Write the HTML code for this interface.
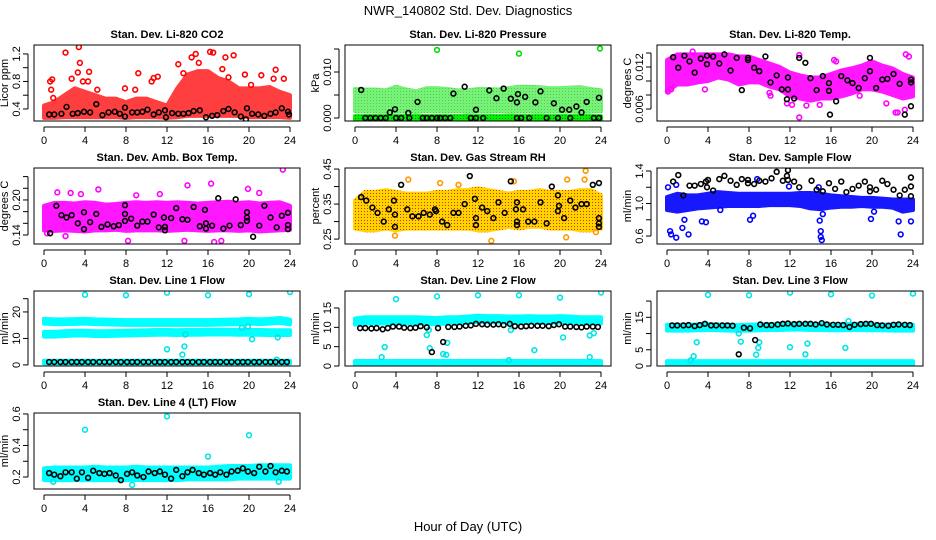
<!DOCTYPE html>
<html><head><meta charset="utf-8"><title>NWR_140802 Std. Dev. Diagnostics</title>
<style>
html,body{margin:0;padding:0;background:#fff;}
svg{display:block;font-family:"Liberation Sans",sans-serif;}
.tl{font-size:11px;fill:#000;}
.pt{font-size:11px;font-weight:bold;fill:#000;}
</style></head>
<body>
<svg id="chart" width="936" height="540" viewBox="0 0 936 540" xmlns="http://www.w3.org/2000/svg">
<defs>
<pattern id="rhpat" width="3" height="3" patternUnits="userSpaceOnUse"><rect width="3" height="3" fill="#ffd400"/><rect x="1" y="1" width="1" height="1" fill="#e03000"/></pattern>
<pattern id="grpat" width="3" height="3" patternUnits="userSpaceOnUse"><rect width="3" height="3" fill="#00ee00"/><rect x="1" y="1" width="1" height="1" fill="#007700"/></pattern>
</defs>
<rect width="936" height="540" fill="#fff"/>
<text x="468" y="15" text-anchor="middle" font-size="13">NWR_140802  Std. Dev. Diagnostics</text>
<text x="468" y="531" text-anchor="middle" font-size="13">Hour of Day (UTC)</text>
</svg>
<script>
// ---------- data ----------
const hourGrid = [0,1,2,3,4,5,6,7,8,9,10,11,12,13,14,15,16,17,18,19,20,21,22,23,24];
const xTicks = [0,4,8,12,16,20,24];
const lineHours = [0.5,1.0,1.6,2.1,2.7,3.2,3.7,4.3,4.8,5.4,5.9,6.4,7.0,7.5,8.1,8.6,9.1,9.7,10.2,10.8,11.3,11.8,12.4,12.9,13.5,14.0,14.5,15.1,15.6,16.2,16.7,17.2,17.8,18.3,18.9,19.4,19.9,20.5,21.0,21.6,22.1,22.6,23.2,23.7];

// P1 CO2
const co2Lo = [0.27,0.27,0.28,0.28,0.28,0.28,0.28,0.28,0.27,0.28,0.28,0.28,0.27,0.28,0.3,0.3,0.3,0.3,0.3,0.3,0.28,0.28,0.28,0.28,0.27];
const co2Hi = [0.45,0.5,0.6,0.7,0.65,0.6,0.55,0.55,0.5,0.55,0.55,0.5,0.45,0.7,0.9,0.95,0.95,0.85,0.8,0.7,0.7,0.7,0.72,0.65,0.6];
const co2Out = [[2.1,1.22],[3.4,1.3],[3.5,1.07],[3.3,0.93],[4.4,0.94],[0.8,0.83],[0.6,0.8],[0.7,0.68],[0.9,0.56],[3.8,0.8],[4.3,0.8],[9.2,0.92],[10.5,0.8],[10.7,0.85],[11.1,0.87],[13.1,1.05],[14.4,1.15],[14.8,1.2],[16.2,1.23],[16.5,1.22],[17.7,1.15],[18.5,1.18],[21.2,0.89],[22.6,0.97],[23.4,0.84],[19.6,0.9],[15.1,1.07],[5.2,0.68],[7.9,0.7],[8.9,0.68],[2.7,0.84],[13.6,0.92],[17.4,0.98],[18,0.86],[20.2,0.75],[22.4,0.84]];
const co2Black = [[0.5,0.32],[1,0.32],[1.7,0.33],[2.2,0.43],[2.8,0.33],[3.3,0.34],[3.9,0.36],[4.5,0.35],[5.1,0.47],[5.7,0.31],[6.3,0.35],[6.9,0.36],[7.4,0.33],[7.9,0.42],[7.9,0.29],[8.6,0.35],[9.1,0.35],[9.6,0.36],[10.1,0.39],[10.7,0.32],[11.2,0.35],[11.8,0.38],[11.9,0.28],[12.5,0.34],[13.1,0.33],[13.6,0.33],[14.1,0.34],[14.6,0.37],[15.2,0.38],[15.8,0.28],[16.4,0.3],[16.9,0.31],[17.5,0.37],[18,0.4],[18.6,0.35],[19.2,0.29],[19.7,0.25],[19.8,0.41],[20.3,0.33],[20.9,0.32],[21.5,0.3],[22.1,0.33],[22.6,0.35],[23.2,0.41],[23.8,0.36],[23.9,0.32]];

// P2 Pressure
const presLo = [0.0015,0.0014,0.0014,0.0013,0.0014,0.0014,0.0013,0.0015,0.0014,0.0014,0.0015,0.0013,0.0014,0.0014,0.0015,0.0013,0.0014,0.0014,0.0013,0.0014,0.0014,0.0014,0.0013,0.0014,0.0015];
const presHi = [0.0063,0.0062,0.0062,0.006,0.0068,0.0062,0.0058,0.0065,0.0065,0.0063,0.006,0.006,0.0063,0.0063,0.0062,0.0065,0.0068,0.0068,0.0067,0.0065,0.0065,0.0066,0.0067,0.0063,0.006];
const presBase = [0,0,0,0,0,0,0,0,0,0,0,0,0,0,0,0,0,0,0,0,0,0,0,0,0];
const presOut = [[8,0.0148],[16,0.014],[23.9,0.0151]];
const presBlack = [[1,0],[1.5,0],[2,0],[2.5,0],[3,0],[4,0],[4.5,0],[5.3,0],[6.6,0],[7,0],[7.5,0],[8,0],[8.3,0],[8.8,0],[9.3,0],[11.3,0],[11.8,0],[12.5,0],[15.8,0],[16.2,0],[17,0],[18.7,0],[19.8,0],[21,0],[23.3,0],[23.8,0],[0.6,0.0061],[3.4,0.0012],[3.9,0.0019],[5.2,0.0011],[6.1,0.0035],[9.6,0.0053],[10.7,0.0068],[11.8,0.0018],[13.1,0.006],[14.5,0.0064],[13.8,0.0043],[15.2,0.0042],[15.8,0.0034],[15.9,0.0052],[16.6,0.0046],[17.6,0.0034],[18.1,0.0058],[19.4,0.0032],[20.2,0.0018],[20.9,0.0018],[21.6,0.0025],[22.1,0.0012],[22.6,0.0035],[23.8,0.0044]];

// P3 Li-820 Temp
const tempLo = [0.0085,0.0095,0.0095,0.0098,0.01,0.0105,0.0102,0.0095,0.0098,0.0098,0.0092,0.0088,0.0078,0.0075,0.0072,0.0075,0.0075,0.0078,0.0082,0.0088,0.0088,0.0085,0.008,0.0075,0.0078];
const tempHi = [0.013,0.0138,0.0138,0.0138,0.0138,0.0138,0.0138,0.0135,0.0135,0.013,0.0125,0.012,0.0112,0.0108,0.0105,0.0105,0.011,0.0115,0.0118,0.0122,0.0128,0.0122,0.0118,0.011,0.0105];
const tempOut = [[0.1,0.0085],[0.4,0.0088],[2.5,0.0142],[3.7,0.0088],[10.0,0.0083],[10.1,0.0079],[11.7,0.0068],[12.2,0.0066],[12.9,0.0137],[12.9,0.0048],[13.6,0.0065],[14.9,0.0066],[16.3,0.013],[16.5,0.0128],[22.3,0.0055],[22.5,0.0055],[23.2,0.0059],[23.3,0.0138],[23.6,0.0135],[21.4,0.0068],[18.8,0.0079]];
const tempBlack = [[0.6,0.0134],[1.1,0.0119],[1.7,0.0136],[2.2,0.0128],[2.7,0.0112],[3.3,0.0132],[3.9,0.0136],[3.9,0.0124],[4.5,0.0135],[5.1,0.0125],[5.6,0.0138],[6.2,0.0115],[6.8,0.0133],[7.3,0.0087],[7.9,0.0133],[7.9,0.013],[8.5,0.0119],[9.0,0.0114],[9.6,0.0135],[10.1,0.0098],[10.7,0.0108],[11.2,0.0088],[11.7,0.0074],[11.8,0.0088],[11.8,0.0105],[12.4,0.0075],[12.9,0.0133],[13.5,0.0126],[14.0,0.0104],[14.6,0.0087],[15.2,0.0107],[15.8,0.0097],[15.8,0.0086],[15.9,0.0052],[16.5,0.0071],[17.0,0.0107],[17.6,0.0101],[18.1,0.0097],[18.7,0.009],[19.3,0.0104],[19.8,0.0133],[19.8,0.0114],[20.4,0.009],[21.0,0.0102],[21.5,0.0103],[22.1,0.011],[22.7,0.0096],[23.2,0.0052],[23.8,0.0102],[23.8,0.0098],[23.8,0.0064]];

// P4 Amb Box Temp
const ambLo = [0.148,0.147,0.148,0.147,0.146,0.148,0.148,0.149,0.147,0.148,0.148,0.148,0.147,0.148,0.149,0.148,0.147,0.148,0.148,0.147,0.148,0.146,0.147,0.148,0.149];
const ambHi = [0.19,0.195,0.195,0.194,0.196,0.195,0.192,0.193,0.195,0.196,0.195,0.196,0.195,0.196,0.195,0.194,0.195,0.196,0.197,0.195,0.196,0.194,0.195,0.196,0.19];
const ambOut = [[1.3,0.213],[2.6,0.212],[3.6,0.21],[5.3,0.218],[9.0,0.208],[11.3,0.21],[14.0,0.225],[16.3,0.228],[19.9,0.219],[21.0,0.212],[23.3,0.252],[8.2,0.13],[13.7,0.13],[16.6,0.128],[17.3,0.13],[0.3,0.143],[2.1,0.138]];
const ambBlack = [[0.6,0.143],[1.2,0.19],[1.7,0.174],[2.2,0.17],[2.7,0.174],[3.3,0.16],[3.9,0.179],[3.9,0.15],[4.5,0.162],[5.1,0.176],[5.6,0.154],[6.2,0.158],[6.8,0.155],[7.3,0.157],[7.9,0.191],[7.9,0.176],[7.9,0.164],[8.5,0.168],[9.1,0.156],[9.6,0.163],[10.1,0.163],[10.7,0.175],[11.2,0.153],[11.7,0.17],[11.8,0.154],[11.8,0.148],[12.4,0.169],[12.9,0.186],[13.5,0.167],[14.0,0.166],[14.6,0.188],[15.2,0.155],[15.7,0.183],[15.8,0.16],[15.8,0.151],[16.4,0.156],[17.0,0.203],[17.5,0.151],[18.1,0.156],[18.7,0.201],[19.2,0.157],[19.8,0.179],[19.8,0.17],[19.8,0.164],[20.4,0.137],[21.0,0.156],[21.5,0.19],[22.1,0.17],[22.7,0.153],[23.2,0.173],[23.8,0.178],[23.8,0.157],[23.8,0.15]];

// P5 Gas Stream RH
const rhLo = [0.28,0.275,0.275,0.28,0.275,0.28,0.28,0.28,0.28,0.28,0.28,0.28,0.275,0.275,0.28,0.285,0.28,0.285,0.285,0.28,0.28,0.28,0.275,0.275,0.28];
const rhHi = [0.36,0.385,0.385,0.39,0.385,0.38,0.38,0.38,0.385,0.385,0.39,0.39,0.395,0.39,0.385,0.38,0.385,0.385,0.39,0.385,0.385,0.385,0.39,0.39,0.375];
const rhOut = [[5.2,0.42],[8.3,0.41],[10.1,0.405],[22.5,0.445],[22.4,0.42],[3.9,0.26],[20.6,0.255],[13.3,0.245],[23.5,0.27],[15.5,0.415],[20.7,0.42]];
const rhBlack = [[0.6,0.37],[1.1,0.36],[1.7,0.34],[2.2,0.325],[2.8,0.3],[3.3,0.335],[3.8,0.36],[3.9,0.32],[3.9,0.285],[4.5,0.405],[5.1,0.335],[5.6,0.315],[6.2,0.315],[6.7,0.325],[7.3,0.32],[7.8,0.335],[7.9,0.33],[8.5,0.3],[9.0,0.29],[9.6,0.325],[10.1,0.325],[10.7,0.35],[11.2,0.43],[11.7,0.365],[11.8,0.31],[11.8,0.29],[12.4,0.34],[12.9,0.33],[13.5,0.31],[14.0,0.355],[14.6,0.325],[15.2,0.415],[15.7,0.335],[15.8,0.355],[15.8,0.3],[15.8,0.29],[16.4,0.335],[16.9,0.3],[17.5,0.3],[18.1,0.355],[18.7,0.295],[19.2,0.4],[19.8,0.375],[19.8,0.33],[19.9,0.345],[20.4,0.31],[21.0,0.36],[21.5,0.34],[22.1,0.35],[22.6,0.35],[23.2,0.405],[23.8,0.41],[23.8,0.31],[23.8,0.295],[23.8,0.285]];

// P6 Sample Flow
const sfLo = [0.92,0.9,0.92,0.94,0.95,0.96,0.97,0.97,0.97,0.97,0.98,0.98,0.98,0.97,0.94,0.93,0.95,0.96,0.96,0.97,0.96,0.96,0.95,0.9,0.92];
const sfHi = [1.08,1.12,1.1,1.1,1.12,1.14,1.13,1.12,1.12,1.12,1.12,1.12,1.12,1.13,1.13,1.12,1.1,1.09,1.08,1.07,1.07,1.06,1.05,1.05,1.05];
const sfOut = [[0.1,1.2],[0.3,0.66],[0.4,0.62],[0.9,0.58],[1.5,0.7],[1.7,0.8],[2.1,0.62],[3.4,0.78],[3.8,0.77],[8.1,0.8],[8.4,0.85],[14.9,0.79],[15.0,0.66],[15.0,0.59],[15.1,0.55],[15.2,0.87],[19.9,0.81],[22.8,0.62],[22.6,0.78],[23.8,0.78],[8.8,1.3],[11.9,1.21],[14.8,1.2],[0.9,1.23],[5.2,0.92],[20.2,0.9]];
const sfBlack = [[0.6,1.27],[1.1,1.35],[1.6,1.1],[2.2,1.22],[2.7,1.22],[3.3,1.24],[3.8,1.27],[3.9,1.2],[4.0,1.29],[4.5,1.16],[5.1,1.3],[5.6,1.34],[6.2,1.28],[6.8,1.23],[7.3,1.3],[7.9,1.29],[7.9,1.25],[8.5,1.24],[9.0,1.28],[9.6,1.27],[10.2,1.31],[10.7,1.39],[11.3,1.28],[11.7,1.34],[11.8,1.41],[11.8,1.29],[12.4,1.27],[12.9,1.2],[14.1,1.28],[14.6,1.17],[15.2,1.15],[15.8,1.25],[16.4,1.18],[17.0,1.27],[17.5,1.14],[18.1,1.18],[18.7,1.22],[19.3,1.27],[19.8,1.2],[19.8,1.15],[20.4,1.17],[21.0,1.28],[21.5,1.24],[22.1,1.17],[22.7,1.1],[23.2,1.17],[23.8,1.32],[23.8,1.21],[23.8,1.09]];

// P7 Line 1 Flow
const l1Upper = [16.5,16.3,16.3,16.4,16.5,16.3,16.2,16.1,16,16,16,16,16,16,16,16,16,16.1,16.2,16.3,16.5,16.3,16.5,16.8,16.2];
const l1Lower = [11.6,11.6,11.8,12,12,11.8,11.8,11.9,12,12.1,12.2,12.3,12.3,12.2,12.3,12.3,12.4,12.4,12.4,12.3,12.3,12.3,12.2,12.2,12.2];
const l1Base = [1.1,1.1,1.1,1.1,1.1,1.1,1.1,1.1,1.1,1.1,1.1,1.1,1.1,1.1,1.1,1.1,1.1,1.1,1.1,1.1,1.1,1.1,1.1,1.1,1.1];
const l1Out = [[4,26.5],[8,26.3],[12,27.3],[16,26.3],[20,26.7],[24,27.5],[12,5.9],[13.5,3.9],[13.7,7],[13.8,11.5],[20.3,9.7],[19.9,14.5],[22.8,10.4],[19.3,14],[22.7,2.0],[2,0.2]];
const l1Black = [1.1,1.1,1.1,1.1,1.1,1.1,1.1,1.1,1.1,1.1,1.1,1.1,1.1,1.1,1.1,1.1,1.1,1.1,1.1,1.1,1.1,1.1,1.1,1.1,1.1,1.1,1.1,1.1,1.1,1.1,1.1,1.1,1.1,1.1,1.1,1.1,1.1,1.1,1.1,1.1,1.1,1.1,1.1,1.1];

// P8 Line 2 Flow
const l2Upper = [11.5,11.8,11.8,11.8,11.8,11.8,11.8,11.7,11.6,11.8,11.8,12,12.2,12.1,12.1,12,12,12.1,12,12,12.1,12,11.8,11.8,11.8];
const l2Base = [0.8,0.8,0.8,0.8,0.8,0.8,0.8,0.8,0.8,0.8,0.8,0.8,0.8,0.8,0.8,0.8,0.8,0.8,0.8,0.8,0.8,0.8,0.8,0.8,0.8];
const l2Out = [[4,17.3],[8,18],[12,18.3],[16,18.3],[20,17.7],[24,19],[2.9,4.9],[2.6,2.3],[7.3,4.6],[7.0,8],[8.6,3.1],[8.9,2.9],[9.0,6],[15.2,9.3],[15.0,1.5],[17.5,4.1],[20.3,7.4],[22.9,2.3],[22.9,7.9],[23.3,8.5],[7.2,9.3]];
const l2Black = [9.8,9.8,9.7,9.8,9.5,9.8,10.2,10.2,9.9,9.8,9.9,10.3,10.0,3.6,9.8,6.2,10.1,10.1,10.2,10.4,10.5,10.9,10.8,10.7,10.7,10.8,10.6,10.9,10.3,10.2,10.3,10.4,10.4,10.4,10.3,10.6,10.8,10.2,10.2,10.1,10.0,10.2,10.2,10.1];

// P9 Line 3 Flow
const l3Upper = [11.8,11.8,11.8,11.9,12,11.9,11.8,11.7,11.8,11.9,12,12,12.1,12.1,12,12,11.9,11.9,12,12,11.9,11.9,11.8,11.8,11.8];
const l3Base = [1,1,1,1,1,1,1,1,1,1,1,1,1,1,1,1,1,1,1,1,1,1,1,1,1];
const l3Out = [[4,21.9],[8,21.8],[12,22.6],[16,22.1],[20,21.7],[24,22.3],[2.6,3],[2.9,7.3],[7.2,7.5],[7.0,10],[8.7,3.5],[8.9,5.6],[9.0,7.3],[12,5.8],[13.5,3.6],[13.7,6.9],[17.4,5.6],[17.7,13.8],[2.3,1.7]];
const l3Black = [12.5,12.5,12.5,12.6,12.3,12.6,13.0,12.5,12.5,12.5,12.5,12.4,3.6,11.8,11.6,8.0,12.8,12.6,12.6,12.8,13.0,13.1,12.9,13.0,13.0,13.0,12.8,13.2,12.8,12.7,12.7,12.6,12.0,12.7,12.9,13.0,13.0,12.6,12.5,12.4,12.7,12.8,12.7,12.6];

// P10 Line 4 (LT) Flow
const l4Lo = [0.18,0.18,0.18,0.18,0.18,0.18,0.18,0.18,0.18,0.18,0.18,0.18,0.18,0.18,0.185,0.185,0.185,0.185,0.185,0.19,0.19,0.19,0.19,0.19,0.19];
const l4Hi = [0.255,0.26,0.26,0.26,0.26,0.265,0.26,0.26,0.26,0.265,0.26,0.26,0.26,0.26,0.26,0.26,0.26,0.265,0.27,0.27,0.27,0.275,0.275,0.275,0.275];
const l4Out = [[4,0.5],[12,0.585],[16,0.33],[20,0.465],[8.6,0.15],[0.9,0.17],[22.9,0.17]];
const l4Black = [0.225,0.215,0.205,0.23,0.23,0.19,0.23,0.195,0.24,0.225,0.22,0.225,0.21,0.18,0.22,0.23,0.21,0.2,0.235,0.225,0.235,0.215,0.19,0.245,0.205,0.23,0.245,0.225,0.215,0.225,0.215,0.23,0.215,0.235,0.24,0.255,0.235,0.225,0.265,0.235,0.27,0.23,0.24,0.235];

// ---------- drawing ----------
const NS = "http://www.w3.org/2000/svg";
const svg = document.getElementById("chart");
const COLS = [{l:34,r:300},{l:345,r:611},{l:657,r:923}];
const ROWS = [{t:45,b:121},{t:168,b:244},{t:291,b:366},{t:413,b:489}];

function mk(tag, attrs, parent) {
  const e = document.createElementNS(NS, tag);
  for (const k in attrs) e.setAttribute(k, attrs[k]);
  (parent || svg).appendChild(e);
  return e;
}

function makePanel(key, col, row, title, ylab, ymin, ymax, yTicks, yLabels) {
  const c = COLS[col], r = ROWS[row];
  const g = mk("g", {});
  
  
  const x = h => c.l + 10 + (h / 24) * (c.r - c.l - 20);
  const y = v => r.b - (v - ymin) / (ymax - ymin) * (r.b - r.t);
  const clipId = "clip-" + key;
  const cp = mk("clipPath", {id: clipId}, g);
  mk("rect", {x: c.l, y: r.t, width: c.r - c.l, height: r.b - r.t}, cp);
  const plot = mk("g", {"clip-path": "url(#" + clipId + ")"}, g);
  
  
  const box = mk("rect", {x: c.l, y: r.t, width: c.r - c.l, height: r.b - r.t, fill: "none", stroke: "#000", "stroke-width": 1}, g);
  
  
  const t = mk("text", {x: (c.l + c.r) / 2, y: r.t - 7, "text-anchor": "middle", class: "pt"}, g);
  t.textContent = title;
  
  
  const xa = mk("g", {}, g);
  
  
  mk("line", {x1: x(0), x2: x(24), y1: r.b + 6, y2: r.b + 6, stroke: "#000"}, xa);
  xTicks.forEach(h => {
    mk("line", {x1: x(h), x2: x(h), y1: r.b + 6, y2: r.b + 11, stroke: "#000"}, xa);
    const tx = mk("text", {x: x(h), y: r.b + 23, "text-anchor": "middle", class: "tl"}, xa);
    tx.textContent = h;
  });
  const ya = mk("g", {}, g);
  
  
  mk("line", {x1: c.l - 6, x2: c.l - 6, y1: y(yTicks[0]), y2: y(yTicks[yTicks.length - 1]), stroke: "#000"}, ya);
  yTicks.forEach(v => {
    mk("line", {x1: c.l - 11, x2: c.l - 6, y1: y(v), y2: y(v), stroke: "#000"}, ya);
  });
  yLabels.forEach(lb => {
    const yy = y(parseFloat(lb));
    const tx = mk("text", {x: c.l - 14, y: yy, "text-anchor": "middle", class: "tl", transform: "rotate(-90 " + (c.l - 14) + " " + yy + ")"}, ya);
    tx.textContent = lb;
  });
  const yl = mk("text", {x: c.l - 26, y: (r.t + r.b) / 2, "text-anchor": "middle", class: "tl", transform: "rotate(-90 " + (c.l - 26) + " " + ((r.t + r.b) / 2) + ")"}, g);
  yl.textContent = ylab;
  
  
  return {x, y, plot};
}

function band(p, name, lo, hi, fill, op) {
  let pts = [];
  hourGrid.forEach((h, i) => pts.push(p.x(h) + "," + p.y(hi[i])));
  for (let i = hourGrid.length - 1; i >= 0; i--) pts.push(p.x(hourGrid[i]) + "," + p.y(lo[i]));
  const e = mk("polygon", {points: pts.join(" "), fill: fill, stroke: fill, "stroke-width": 4, "stroke-linejoin": "round", opacity: op}, p.plot);
  
  
}
function bandC(p, name, center, half, fill) {
  const lo = center.map(v => v - half), hi = center.map(v => v + half);
  band(p, name, lo, hi, fill, 1);
}
function pts(p, name, arr, color) {
  const g = mk("g", {}, p.plot);
  
  
  arr.forEach(d => {
    mk("circle", {cx: p.x(d[0]), cy: p.y(d[1]), r: 2.4, fill: "none", stroke: color, "stroke-width": 1.6}, g);
  });
}
function ptsH(p, name, vals, color) {
  pts(p, name, vals.map((v, i) => [lineHours[i], v]), color);
}

let p = makePanel("co2", 0, 0, "Stan. Dev. Li-820 CO2", "Licor ppm", 0.225, 1.33, [0.4,0.6,0.8,1.0,1.2], ["0.4","0.8","1.2"]);
band(p, "co2-cloud", co2Lo, co2Hi, "#ff0000", 0.75);
pts(p, "co2-outliers", co2Out, "#ff0000");
pts(p, "co2-black-series", co2Black, "#000");

p = makePanel("pressure", 1, 0, "Stan. Dev. Li-820 Pressure", "kPa", -0.00065, 0.01587, [0,0.005,0.01,0.015], ["0.000","0.010"]);
band(p, "pressure-cloud", presLo, presHi, "url(#grpat)", 0.55);
bandC(p, "pressure-base", presBase, 0.0004, "url(#grpat)");
pts(p, "pressure-outliers", presOut, "#00dd00");
pts(p, "pressure-black-series", presBlack, "#000");

p = makePanel("licor-temp", 2, 0, "Stan. Dev. Li-820 Temp.", "degrees C", 0.00429, 0.01514, [0.006,0.008,0.010,0.012,0.014], ["0.006","0.012"]);
band(p, "licor-temp-cloud", tempLo, tempHi, "#ff00ff", 0.9);
pts(p, "licor-temp-outliers", tempOut, "#ff00ff");
pts(p, "licor-temp-black-series", tempBlack, "#000");

p = makePanel("amb-temp", 0, 1, "Stan. Dev. Amb. Box Temp.", "degrees C", 0.1246, 0.2547, [0.14,0.16,0.18,0.20,0.22,0.24], ["0.14","0.20"]);
band(p, "amb-temp-cloud", ambLo, ambHi, "#ff00ff", 0.9);
pts(p, "amb-temp-outliers", ambOut, "#ff00ff");
pts(p, "amb-temp-black-series", ambBlack, "#000");

p = makePanel("rh", 1, 1, "Stan. Dev. Gas Stream RH", "percent", 0.236, 0.453, [0.25,0.30,0.35,0.40,0.45], ["0.25","0.35","0.45"]);
band(p, "rh-cloud", rhLo, rhHi, "url(#rhpat)", 1);
pts(p, "rh-outliers", rhOut, "#ff9900");
pts(p, "rh-black-series", rhBlack, "#000");

p = makePanel("sample-flow", 2, 1, "Stan. Dev. Sample Flow", "ml/min", 0.502, 1.437, [0.6,0.8,1.0,1.2,1.4], ["0.6","1.0","1.4"]);
band(p, "sample-flow-cloud", sfLo, sfHi, "#0000ff", 0.9);
pts(p, "sample-flow-outliers", sfOut, "#0000ff");
pts(p, "sample-flow-black-series", sfBlack, "#000");

p = makePanel("line1", 0, 2, "Stan. Dev. Line 1 Flow", "ml/min", -0.4, 27.9, [0,10,20,25], ["0","10","20"]);
bandC(p, "line1-upper-band", l1Upper, 0.9, "#00ffff");
bandC(p, "line1-lower-band", l1Lower, 0.9, "#00ffff");
bandC(p, "line1-base-band", l1Base, 0.5, "#00ffff");
pts(p, "line1-outliers", l1Out, "#00e5e5");
ptsH(p, "line1-black-series", l1Black, "#000");

p = makePanel("line2", 1, 2, "Stan. Dev. Line 2 Flow", "ml/min", 0, 19.4, [0,5,10,15], ["0","5","10","15"]);
bandC(p, "line2-upper-band", l2Upper, 0.8, "#00ffff");
bandC(p, "line2-base-band", l2Base, 0.5, "#00ffff");
pts(p, "line2-outliers", l2Out, "#00e5e5");
ptsH(p, "line2-black-series", l2Black, "#000");

p = makePanel("line3", 2, 2, "Stan. Dev. Line 3 Flow", "ml/min", 0, 23.1, [0,5,10,15,20], ["0","5","15"]);
bandC(p, "line3-upper-band", l3Upper, 0.9, "#00ffff");
bandC(p, "line3-base-band", l3Base, 0.5, "#00ffff");
pts(p, "line3-outliers", l3Out, "#00e5e5");
ptsH(p, "line3-black-series", l3Black, "#000");

p = makePanel("line4", 0, 3, "Stan. Dev. Line 4 (LT) Flow", "ml/min", 0.124, 0.606, [0.2,0.3,0.4,0.5,0.6], ["0.2","0.4","0.6"]);
band(p, "line4-cloud", l4Lo, l4Hi, "#00ffff", 1);
pts(p, "line4-outliers", l4Out, "#00e5e5");
ptsH(p, "line4-black-series", l4Black, "#000");
</script>
</body></html>
